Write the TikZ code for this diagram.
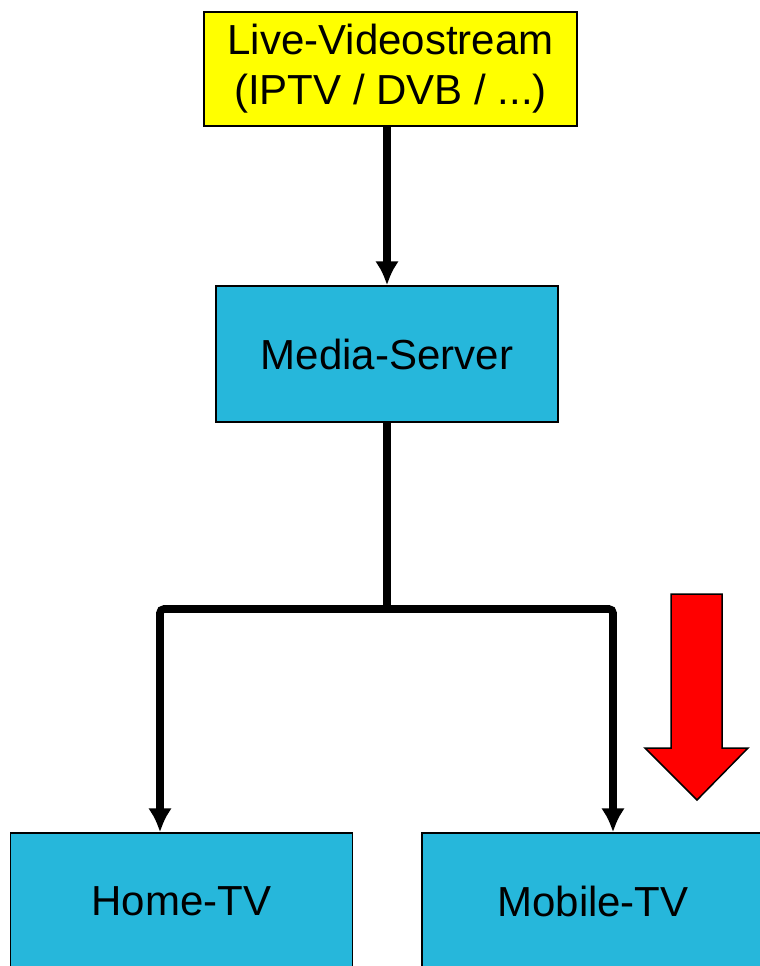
\documentclass[tikz,border=0pt]{standalone}
\usepackage{fontspec}
\setmainfont{Liberation Sans}
\usetikzlibrary{arrows.meta}
\definecolor{boxcyan}{RGB}{38,183,219}
\definecolor{streamyellow}{RGB}{255,255,0}

\begin{document}
\begin{tikzpicture}[x=0.5pt,y=-0.5pt,
  >={Latex[length=12pt,width=12pt]},
  box/.style={draw, line width=0.75pt, fill=boxcyan, minimum width=171pt, minimum height=68pt, inner sep=0pt, font=\fontsize{21pt}{25pt}\selectfont},
  link/.style={line width=3.8pt}]
  \useasboundingbox (0,0) rectangle (760,966);
  \clip (0,0) rectangle (760,966);

  % Nodes
  \node[box, fill=streamyellow, minimum width=186.5pt, minimum height=57pt, align=center] (Stream) at (390.5,69) {Live-Videostream\\(IPTV / DVB / ...)};
  \node[box] (Server) at (387,354) {Media-Server};
  \node[box] (Home) at (181.5,901) {Home-TV};
  \node[box] (Mobile) at (593,901) {Mobile-TV};

  % Edges
  \draw[link,->] (Stream.south -| Server.north) -- (Server.north);
  \coordinate (split) at (387,609);
  \draw[link] (Server) -- (split);
  \draw[link,->,rounded corners=2pt] (split) -| ([xshift=-10.75pt]Home.north);
  \draw[link,->,rounded corners=2pt] (split) -| ([xshift=10pt]Mobile.north);

  % Red marker
  \draw[line width=0.75pt, fill=red] (671,594) -- (722,594) -- (722,748) -- (748,748) -- (697,800) -- (645,748) -- (671,748) -- cycle;
\end{tikzpicture}
\end{document}
